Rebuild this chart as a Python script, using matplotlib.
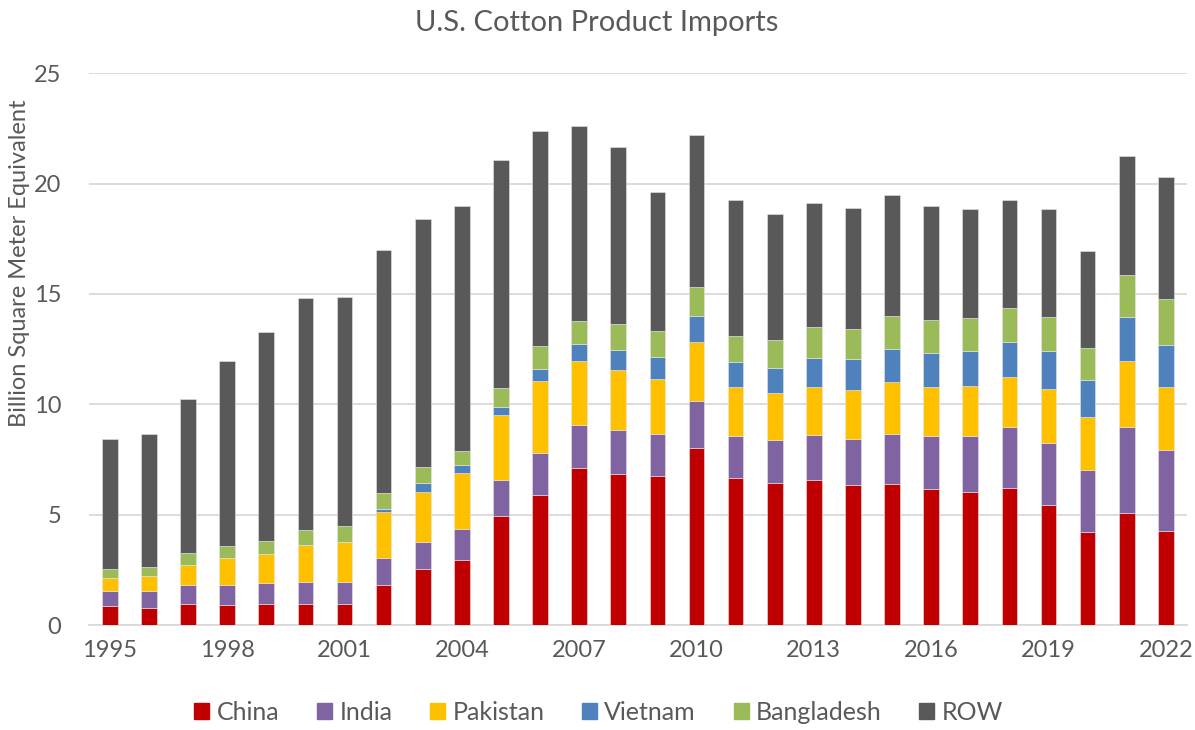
import numpy as np
import matplotlib as mpl
mpl.use('Agg')
import matplotlib.pyplot as plt
import matplotlib.patches as mpatches

# ---- data (billion square meter equivalent) ----
years = list(range(1995, 2023))

china = [0.85, 0.76, 0.97, 0.89, 0.94, 0.94, 0.94, 1.83, 2.53, 2.96,
         4.93, 5.88, 7.11, 6.85, 6.74, 8.01, 6.65, 6.44, 6.58, 6.33,
         6.37, 6.14, 6.01, 6.21, 5.42, 4.22, 5.07, 4.27]
india = [0.67, 0.76, 0.83, 0.91, 0.97, 1.01, 1.01, 1.20, 1.23, 1.38,
         1.66, 1.91, 1.93, 1.98, 1.92, 2.15, 1.91, 1.92, 2.03, 2.10,
         2.27, 2.43, 2.57, 2.74, 2.81, 2.80, 3.92, 3.68]
pakistan = [0.60, 0.71, 0.93, 1.22, 1.30, 1.67, 1.81, 2.08, 2.26, 2.53,
            2.91, 3.26, 2.94, 2.72, 2.48, 2.65, 2.22, 2.16, 2.19, 2.21,
            2.38, 2.21, 2.23, 2.30, 2.44, 2.41, 2.95, 2.81]
vietnam = [0.0, 0.0, 0.0, 0.0, 0.0, 0.0, 0.0, 0.16, 0.42, 0.37,
           0.37, 0.53, 0.77, 0.93, 1.02, 1.19, 1.14, 1.14, 1.30, 1.42,
           1.50, 1.54, 1.60, 1.57, 1.73, 1.66, 2.00, 1.91]
bangladesh = [0.40, 0.42, 0.53, 0.57, 0.59, 0.70, 0.72, 0.71, 0.70, 0.64,
              0.85, 1.05, 1.04, 1.17, 1.18, 1.32, 1.18, 1.25, 1.40, 1.33,
              1.50, 1.50, 1.51, 1.56, 1.54, 1.46, 1.91, 2.10]
row = [5.92, 6.00, 6.98, 8.38, 9.49, 10.51, 10.37, 11.00, 11.25, 11.10,
       10.33, 9.74, 8.80, 7.99, 6.27, 6.88, 6.15, 5.71, 5.60, 5.50,
       5.46, 5.16, 4.91, 4.87, 4.90, 4.40, 5.38, 5.54]

series = [('China', china, '#C00000'),
          ('India', india, '#8064A2'),
          ('Pakistan', pakistan, '#FFC000'),
          ('Vietnam', vietnam, '#4F81BD'),
          ('Bangladesh', bangladesh, '#9BBB59'),
          ('ROW', row, '#595959')]

txt = '#595959'
plt.rcParams['font.family'] = ['Lato', 'DejaVu Sans']

fig = plt.figure(figsize=(11.95, 7.30), dpi=100)
ax = fig.add_axes([0.0745, 0.1438, 0.9185, 0.756])

x = np.arange(len(years))
bottom = np.zeros(len(years))
handles = []
for name, vals, col in series:
    vals = np.array(vals)
    ax.bar(x, vals, 0.4, bottom=bottom, color=col, edgecolor='#e6e6e6',
           linewidth=0.4, zorder=3)
    bottom += vals
    handles.append(mpatches.Patch(color=col, label=name))

ax.set_xlim(-0.53, len(years) - 0.47)
ax.set_ylim(0, 25)
ax.set_yticks(range(0, 26, 5))
ax.yaxis.grid(True, color='#d9d9d9', linewidth=1.3, zorder=0)
ax.set_xticks(x[::3])
ax.set_xticklabels([str(y) for y in years[::3]])
ax.tick_params(axis='both', length=0, labelsize=17, colors=txt)
ax.tick_params(axis='x', pad=11)
ax.tick_params(axis='y', pad=20)
for s in ['top', 'right', 'left']:
    ax.spines[s].set_visible(False)
ax.spines['bottom'].set_color('#d9d9d9')
ax.spines['bottom'].set_linewidth(1.3)

ax.set_ylabel('Billion Square Meter Equivalent', fontsize=17, color=txt)
ax.yaxis.set_label_coords(-0.054, 0.655)
fig.text(0.499, 0.968, 'U.S. Cotton Product Imports', ha='center', va='center',
         fontsize=21, color=txt)

fig.legend(handles=handles, loc='center', bbox_to_anchor=(0.501, 0.024),
           ncol=6, frameon=False, fontsize=18, handlelength=0.6,
           handleheight=0.6, handletextpad=0.3, columnspacing=1.5,
           labelcolor=txt)

fig.savefig('out.png', dpi=100)
